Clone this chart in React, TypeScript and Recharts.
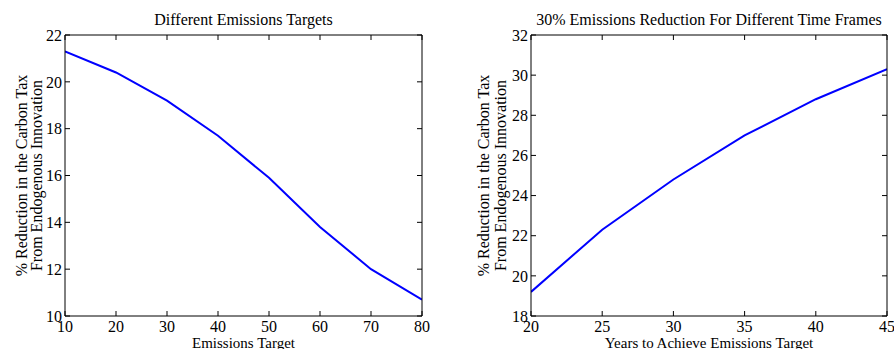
import React from 'react';
import { LineChart, Line, XAxis, YAxis, Label } from 'recharts';

// left panel: different emissions targets
const targetLevels = [10, 20, 30, 40, 50, 60, 70, 80];
const targetTaxReduction = [21.3, 20.4, 19.2, 17.7, 15.9, 13.8, 12.0, 10.7];
const targetXTicks = [10, 20, 30, 40, 50, 60, 70, 80];
const targetYTicks = [10, 12, 14, 16, 18, 20, 22];

// right panel: 30% reduction, different time frames
const yearsToTarget = [20, 25, 30, 35, 40, 45];
const yearsTaxReduction = [19.2, 22.3, 24.8, 27.0, 28.8, 30.3];
const yearsXTicks = [20, 25, 30, 35, 40, 45];
const yearsYTicks = [18, 20, 22, 24, 26, 28, 30, 32];

const yLabelLines = ['% Reduction in the Carbon Tax', 'From Endogenous Innovation'];

const FONT = '"Liberation Serif", "Times New Roman", serif';
const textStyle = { fill: '#000', fontSize: 16, fontFamily: FONT };
const xLabelStyle = { fill: '#000', fontSize: 15, fontFamily: FONT };
const blank = () => '';

interface PanelProps {
  xs: number[];
  ys: number[];
  xTicks: number[];
  yTicks: number[];
  title: string;
  xLabel: string;
  left: number;
  marginLeft: number;
  marginRight: number;
  yLabelOffsets: [number, number];
}

function Panel({ xs, ys, xTicks, yTicks, title, xLabel, left, marginLeft, marginRight, yLabelOffsets }: PanelProps) {
  const data = xs.map((x, i) => ({ x, y: ys[i] }));
  const xDomain = [xTicks[0], xTicks[xTicks.length - 1]];
  const yDomain = [yTicks[0], yTicks[yTicks.length - 1]];

  return (
    <div style={{ position: 'absolute', left, top: 0 }}>
      <LineChart
        width={447}
        height={349}
        data={data}
        margin={{ top: 34, right: marginRight, bottom: 0, left: marginLeft }}
        style={{ fontFamily: FONT }}
      >
        <XAxis
          dataKey="x"
          type="number"
          domain={xDomain}
          ticks={xTicks}
          interval={0}
          allowDataOverflow
          height={33}
          tickSize={-5}
          tickMargin={10}
          tick={textStyle}
          axisLine={{ stroke: '#000' }}
          tickLine={{ stroke: '#000' }}
        >
          <Label
            content={(props: any) => {
              const vb = props.viewBox;
              return (
                <text x={vb.x + vb.width / 2} y={348} textAnchor="middle" fontFamily={FONT} fontSize={15} fill="#000">
                  {xLabel}
                </text>
              );
            }}
          />
        </XAxis>
        <XAxis
          xAxisId="top"
          orientation="top"
          dataKey="x"
          type="number"
          domain={xDomain}
          ticks={xTicks}
          interval={0}
          allowDataOverflow
          height={1}
          tickSize={-5}
          tickFormatter={blank}
          axisLine={{ stroke: '#000' }}
          tickLine={{ stroke: '#000' }}
        >
          <Label
            content={(props: any) => {
              const vb = props.viewBox;
              return (
                <text x={vb.x + vb.width / 2} y={25} textAnchor="middle" fontFamily={FONT} fontSize={16} fill="#000">
                  {title}
                </text>
              );
            }}
          />
        </XAxis>
        <YAxis
          type="number"
          domain={yDomain}
          ticks={yTicks}
          interval={0}
          allowDataOverflow
          width={50}
          tickSize={-5}
          tickMargin={8}
          tick={textStyle}
          axisLine={{ stroke: '#000' }}
          tickLine={{ stroke: '#000' }}
        >
          <Label
            content={(props: any) => {
              const vb = props.viewBox;
              const axisX = vb.x + vb.width;
              const cy = vb.y + vb.height / 2;
              return (
                <g>
                  {yLabelLines.map((line, i) => {
                    const cx = axisX - yLabelOffsets[i];
                    return (
                      <text
                        key={line}
                        x={cx}
                        y={cy}
                        textAnchor="middle"
                        transform={`rotate(-90 ${cx} ${cy})`}
                        fontFamily={FONT}
                        fontSize={16}
                        fill="#000"
                      >
                        {line}
                      </text>
                    );
                  })}
                </g>
              );
            }}
          />
        </YAxis>
        <YAxis
          yAxisId="right"
          orientation="right"
          type="number"
          domain={yDomain}
          ticks={yTicks}
          interval={0}
          allowDataOverflow
          width={1}
          tickSize={-5}
          tickFormatter={blank}
          axisLine={{ stroke: '#000' }}
          tickLine={{ stroke: '#000' }}
        />
        <Line
          type="linear"
          dataKey="y"
          stroke="#0000ff"
          strokeWidth={2}
          dot={false}
          isAnimationActive={false}
        />
      </LineChart>
    </div>
  );
}

export default function App() {
  return (
    <div style={{ position: 'absolute', left: 0, top: 0, width: 894, height: 349, background: '#fff', fontFamily: FONT }}>
      <Panel
        xs={targetLevels}
        ys={targetTaxReduction}
        xTicks={targetXTicks}
        yTicks={targetYTicks}
        title="Different Emissions Targets"
        xLabel="Emissions Target"
        left={0}
        marginLeft={15}
        marginRight={24}
        yLabelOffsets={[38, 23]}
      />
      <Panel
        xs={yearsToTarget}
        ys={yearsTaxReduction}
        xTicks={yearsXTicks}
        yTicks={yearsYTicks}
        title="30% Emissions Reduction For Different Time Frames"
        xLabel="Years to Achieve Emissions Target"
        left={447}
        marginLeft={34}
        marginRight={6}
        yLabelOffsets={[42, 25]}
      />
    </div>
  );
}
